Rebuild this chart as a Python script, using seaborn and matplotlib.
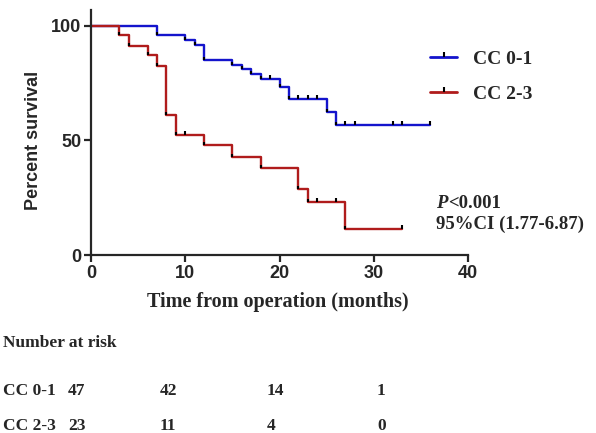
import matplotlib
matplotlib.use("Agg")
import matplotlib.pyplot as plt
from matplotlib.lines import Line2D
import numpy as np
import pandas as pd
import seaborn as sns

# Kaplan-Meier steps (time in months, percent survival)
cc01_times = [0, 7, 10, 11, 12, 15, 16, 17, 18, 20, 21, 25, 26, 36]
cc01_surv = [100, 95.7, 93.6, 91.5, 85.1, 83.0, 80.9, 78.7, 76.6, 73.4, 67.8, 62.2, 56.5, 56.5]
cc01_censor_times = [19, 22, 23, 24, 27, 28, 32, 33, 36]
cc01_censor_surv = [76.6, 67.8, 67.8, 67.8, 56.5, 56.5, 56.5, 56.5, 56.5]

cc23_times = [0, 3, 4, 6, 7, 8, 9, 12, 15, 18, 22, 23, 27, 33]
cc23_surv = [100, 95.7, 91.3, 87.0, 82.6, 60.9, 52.2, 47.8, 42.6, 37.8, 28.6, 23.0, 11.5, 11.5]
cc23_censor_times = [10, 24, 26, 33]
cc23_censor_surv = [52.2, 23.0, 23.0, 11.5]

groups = ["CC 0-1", "CC 2-3"]
colors = {"CC 0-1": "#1414cc", "CC 2-3": "#b01c1c"}

risk_header = "Number at risk"
risk_cc01 = [47, 42, 14, 1]
risk_cc23 = [23, 11, 4, 0]

p_text = "<0.001"
ci_text = "95%CI (1.77-6.87)"

curves = pd.concat([
    pd.DataFrame({"time": cc01_times, "surv": cc01_surv, "group": "CC 0-1"}),
    pd.DataFrame({"time": cc23_times, "surv": cc23_surv, "group": "CC 2-3"}),
])
censors = pd.concat([
    pd.DataFrame({"time": cc01_censor_times, "surv": cc01_censor_surv, "group": "CC 0-1"}),
    pd.DataFrame({"time": cc23_censor_times, "surv": cc23_censor_surv, "group": "CC 2-3"}),
])
# event points (bottom of each drop), GraphPad marks them with a small tick
events = curves[(curves["time"] > 0)].copy()
events = events.groupby("group", group_keys=False).apply(lambda d: d.iloc[:-1])

sns.set_style("ticks")
plt.rcParams["axes.linewidth"] = 1.6

W, H = 596, 433
fig = plt.figure(figsize=(W / 100, H / 100), dpi=100)
ax = fig.add_axes([91 / W, 1 - 255 / H, (468 - 91) / W, (255 - 10) / H])

sns.lineplot(data=curves, x="time", y="surv", hue="group", palette=colors,
             estimator=None, drawstyle="steps-post", linewidth=1.7,
             legend=False, ax=ax)
sns.scatterplot(data=censors, x="time", y="surv", marker=2, s=9, color="black",
                linewidth=1.5, legend=False, ax=ax, zorder=4)
sns.scatterplot(data=events, x="time", y="surv", marker=2, s=6, color="black",
                linewidth=1.5, legend=False, ax=ax, zorder=4)

ax.set_xlim(0, 40)
ax.set_ylim(0, 106.8)
ax.set_xticks([0, 10, 20, 30, 40])
ax.set_yticks([0, 50, 100])
sns.despine(ax=ax)
ax.tick_params(length=5, width=1.6, labelsize=13, pad=2)
for lab in ax.get_xticklabels() + ax.get_yticklabels():
    lab.set_fontfamily("Liberation Sans")
    lab.set_fontweight("bold")

ax.set_ylabel("Percent survival", fontsize=13, fontweight="bold",
              fontfamily="Liberation Sans")
ax.yaxis.set_label_coords(-0.13, 50 / 106.8)
ax.set_xlabel("Time from operation (months)", fontsize=14.5, fontweight="bold",
              fontfamily="Liberation Serif")
ax.xaxis.set_label_coords(0.495, -0.15)

handles = [Line2D([0], [0], color=colors[g], lw=2, marker=2, markersize=3.5,
                  markeredgecolor="black", markeredgewidth=1.5) for g in groups]
leg = ax.legend(handles, groups, loc="upper left", bbox_to_anchor=(0.853, 0.907),
                frameon=False, handlelength=1.4, handletextpad=0.8,
                labelspacing=0.9, prop={"family": "Liberation Serif",
                                         "weight": "bold", "size": 14})


def fx(px):
    return px / W


def fy(py):
    return 1 - py / H


serif = {"family": "Liberation Serif", "weight": "bold"}
fig.text(fx(436), fy(208), "P", fontsize=13.5, va="baseline", style="italic",
         fontdict=serif)
fig.text(fx(448), fy(208), p_text, fontsize=13.5, va="baseline", fontdict=serif)
fig.text(fx(436), fy(229), ci_text, fontsize=13.5, va="baseline", fontdict=serif)

# number at risk table
risk_x = [68, 160, 267, 377]
fig.text(fx(3), fy(347), risk_header, fontsize=12.5, va="baseline", fontdict=serif)
for label, counts, base in [("CC 0-1", risk_cc01, 395), ("CC 2-3", risk_cc23, 430)]:
    fig.text(fx(3), fy(base), label, fontsize=12.5, va="baseline", fontdict=serif)
    for xp, n in zip(risk_x, counts):
        fig.text(fx(xp), fy(base), str(n), fontsize=12.5, va="baseline",
                 fontdict=serif)

fig.savefig("out.png", dpi=100)
